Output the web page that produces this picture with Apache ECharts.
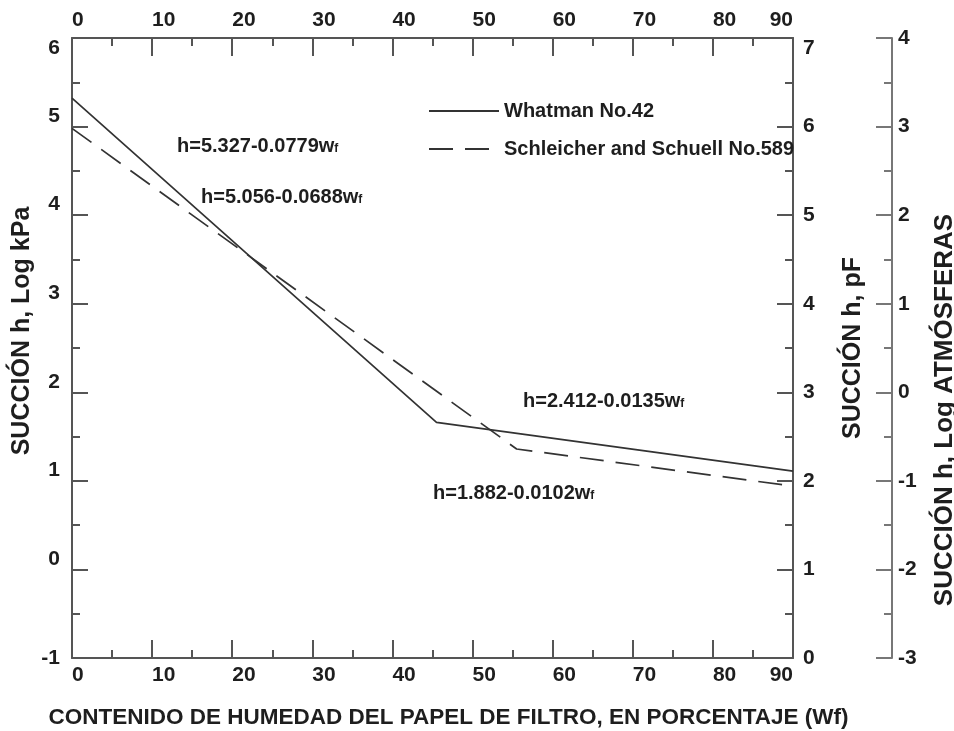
<!DOCTYPE html>
<html>
<head>
<meta charset="utf-8">
<title>Succión vs contenido de humedad del papel de filtro</title>
<script src="https://cdn.jsdelivr.net/npm/echarts@6/dist/echarts.min.js"></script>
<style>
  html, body { margin: 0; padding: 0; background: #fff; }
  #chart { width: 954px; height: 731px; }
</style>
</head>
<body>
<div id="chart"></div>
<script>
  // datos (w en %, h en log kPa)
  const seriesNames = ['Whatman No.42', 'Schleicher and Schuell No.589'];
  const whatmanW = [0, 45.5, 90];
  const whatmanH = [5.32, 1.66, 1.11];
  const schleicherW = [0, 55.5, 90];
  const schleicherH = [4.98, 1.36, 0.94];
  const equations = ['h=5.327-0.0779w', 'h=5.056-0.0688w', 'h=2.412-0.0135w', 'h=1.882-0.0102w'];

  const axisColor = '#555';
  const txt = '#1e1e1e';
  const font = 'Liberation Sans';

  function pairs(xs, ys) {
    return xs.map(function (x, i) { return [x, ys[i]]; });
  }

  function xAxisCfg(pos) {
    return {
      type: 'value',
      position: pos,
      min: 0,
      max: 90,
      interval: 10,
      axisLine: { show: true, onZero: false, lineStyle: { color: axisColor, width: 2 } },
      axisTick: { show: true, inside: true, length: 18, lineStyle: { color: axisColor, width: 2 } },
      minorTick: { show: true, splitNumber: 2, length: 8, lineStyle: { color: axisColor, width: 2 } },
      splitLine: { show: false },
      axisLabel: {
        margin: 7,
        fontSize: 21,
        fontWeight: 'bold',
        fontFamily: font,
        color: txt,
        align: 'left',
        alignMaxLabel: 'right'
      }
    };
  }

  function yAxisCfg(min, max, offset) {
    return {
      type: 'value',
      min: min,
      max: max,
      interval: 1,
      offset: offset,
      axisLine: { show: true, onZero: false, lineStyle: { color: axisColor, width: 2 } },
      axisTick: { show: true, inside: true, length: 16, lineStyle: { color: axisColor, width: 2 } },
      minorTick: { show: true, splitNumber: 2, length: 8, lineStyle: { color: axisColor, width: 2 } },
      splitLine: { show: false },
      axisLabel: {
        fontSize: 21,
        fontWeight: 'bold',
        fontFamily: font,
        color: txt
      },
      nameLocation: 'middle',
      nameRotate: 90,
      nameTextStyle: { fontSize: 25, fontWeight: 'bold', fontFamily: font, color: txt }
    };
  }

  const bottomX = xAxisCfg('bottom');
  bottomX.name = 'CONTENIDO DE HUMEDAD DEL PAPEL DE FILTRO, EN PORCENTAJE (Wf)';
  bottomX.nameLocation = 'middle';
  bottomX.nameGap = 48;
  bottomX.nameTextStyle = { fontSize: 22.5, fontWeight: 'bold', fontFamily: font, color: txt, padding: [0, 0, 0, 32] };
  const topX = xAxisCfg('top');

  const leftY = yAxisCfg(-1, 6, 0);
  leftY.position = 'left';
  leftY.name = 'SUCCIÓN h, Log kPa';
  leftY.nameGap = 37;
  leftY.nameMoveOverlap = false;
  leftY.nameTextStyle.padding = [0, 0, 0, 34];
  leftY.axisLabel.margin = 12;
  leftY.axisLabel.verticalAlign = 'bottom';
  leftY.axisLabel.verticalAlignMinLabel = 'middle';
  leftY.axisLabel.verticalAlignMaxLabel = 'top';

  const pfY = yAxisCfg(0, 7, 0);
  pfY.position = 'right';
  pfY.name = 'SUCCIÓN h, pF';
  pfY.nameGap = 48;
  pfY.axisLabel.margin = 10;
  pfY.axisLabel.verticalAlignMaxLabel = 'top';

  const atmY = yAxisCfg(-3, 4, 99);
  atmY.position = 'right';
  atmY.name = 'SUCCIÓN h, Log ATMÓSFERAS';
  atmY.nameGap = 40;
  atmY.nameTextStyle.fontSize = 26;
  atmY.nameTextStyle.padding = [0, 124, 0, 0];
  atmY.axisLabel.margin = 6;
  atmY.axisLine.lineStyle.color = '#777';
  atmY.axisTick.lineStyle.color = '#777';
  atmY.minorTick.lineStyle.color = '#777';

  function eqText(s) {
    return '{m|' + s + '}{s|f}';
  }
  const eqRich = {
    m: { fontSize: 20, fontWeight: 'bold', fontFamily: font, fill: txt },
    s: { fontSize: 12, fontWeight: 'bold', fontFamily: font, fill: txt, padding: [6, 0, 0, 0] }
  };
  const eqPos = [[177, 146], [201, 197], [523, 401], [433, 493]];

  const chart = echarts.init(document.getElementById('chart'));
  chart.setOption({
    animation: false,
    backgroundColor: '#fff',
    grid: { left: 72, right: 161, top: 38, bottom: 73, containLabel: false, outerBoundsMode: 'none' },
    legend: {
      orient: 'vertical',
      left: 423,
      top: 96,
      itemWidth: 70,
      itemHeight: 20,
      itemGap: 18,
      data: seriesNames,
      itemStyle: { opacity: 0 },
      textStyle: { fontSize: 20, fontWeight: 'bold', fontFamily: font, color: txt }
    },
    xAxis: [bottomX, topX],
    yAxis: [leftY, pfY, atmY],
    series: [
      {
        name: seriesNames[0],
        type: 'line',
        xAxisIndex: 0,
        yAxisIndex: 0,
        symbol: 'none',
        lineStyle: { color: '#333', width: 1.7 },
        itemStyle: { color: '#333' },
        data: pairs(whatmanW, whatmanH)
      },
      {
        name: seriesNames[1],
        type: 'line',
        xAxisIndex: 0,
        yAxisIndex: 0,
        symbol: 'none',
        lineStyle: { color: '#333', width: 1.7, type: [24, 12] },
        itemStyle: { color: '#333' },
        data: pairs(schleicherW, schleicherH)
      }
    ],
    graphic: equations.map(function (e, i) {
      return {
        type: 'text',
        x: eqPos[i][0],
        y: eqPos[i][1],
        style: {
          text: eqText(e),
          rich: eqRich,
          verticalAlign: 'middle',
          fill: txt
        }
      };
    })
  });
</script>
</body>
</html>
